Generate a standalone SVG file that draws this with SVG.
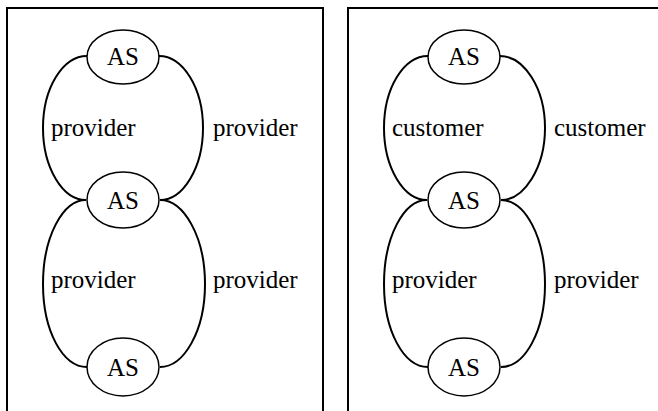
<svg xmlns="http://www.w3.org/2000/svg" width="658" height="411" viewBox="0 0 658 411">
<style>
.frame{fill:none;stroke:#000;stroke-width:2}
.node ellipse{fill:#fff;stroke:#000;stroke-width:1.5}
.edge{fill:none;stroke:#000;stroke-width:2}
text{font-family:"Liberation Serif","Times New Roman",serif;font-size:25px;fill:#000}
.c{text-anchor:middle}
</style>
<rect class="frame" x="7" y="8" width="316" height="420"/>
<rect class="frame" x="348" y="8" width="330" height="420"/>
<g id="connectors">
<path class="edge" d="M87,56 C62.7,56 43,88.2 43,128 C43,167.8 62.7,200 86,200"/>
<path class="edge" d="M159,56 C183,56 203,88.2 203,128 C203,167.8 183,200 160,200"/>
<path class="edge" d="M86,200 C62.7,200 43,237 43,284 C43,331 62.7,367 87,367"/>
<path class="edge" d="M160,200 C184,200 205,237 205,284 C205,331 184,367 160,367"/>
<path class="edge" d="M428,56 C403.7,56 384,88.2 384,128 C384,167.8 403.7,200 427,200"/>
<path class="edge" d="M500,56 C524,56 545,88.2 545,128 C545,167.8 524,200 501,200"/>
<path class="edge" d="M427,200 C403.7,200 384,237 384,284 C384,331 403.7,367 428,367"/>
<path class="edge" d="M501,200 C525,200 545,237 545,284 C545,331 525,367 501,367"/>
</g>
<g id="labels">
<text x="51" y="136">provider</text>
<text x="213" y="136">provider</text>
<text x="51" y="288">provider</text>
<text x="213" y="288">provider</text>
<text x="392" y="136">customer</text>
<text x="554" y="136">customer</text>
<text x="392" y="288">provider</text>
<text x="554" y="288">provider</text>
</g>
<g id="n1" class="node"><ellipse cx="123" cy="57" rx="36" ry="27"/><text class="c" x="123" y="65">AS</text></g>
<g id="n2" class="node"><ellipse cx="123" cy="200" rx="36" ry="28"/><text class="c" x="123" y="209">AS</text></g>
<g id="n3" class="node"><ellipse cx="123" cy="367" rx="36" ry="29"/><text class="c" x="123" y="376">AS</text></g>
<g id="n4" class="node"><ellipse cx="464" cy="57" rx="36" ry="27"/><text class="c" x="464" y="65">AS</text></g>
<g id="n5" class="node"><ellipse cx="464" cy="200" rx="36" ry="28"/><text class="c" x="464" y="209">AS</text></g>
<g id="n6" class="node"><ellipse cx="464" cy="367" rx="36" ry="29"/><text class="c" x="464" y="376">AS</text></g>
</svg>
